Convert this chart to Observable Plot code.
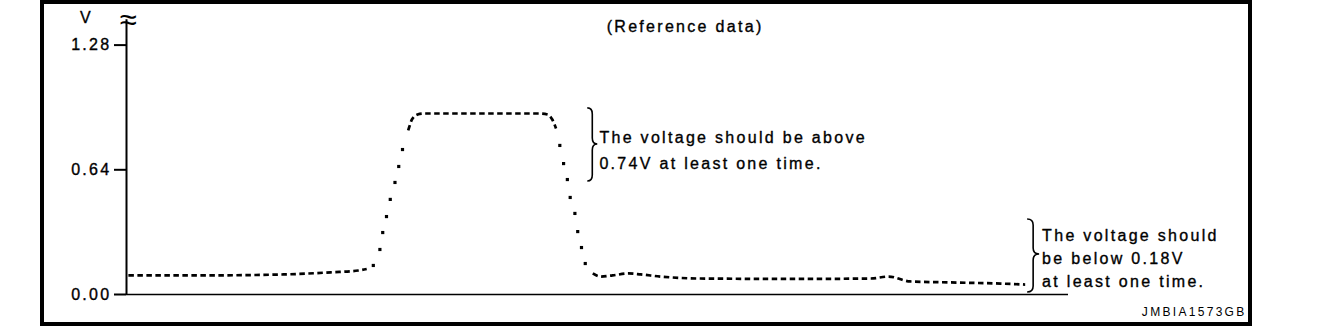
<!DOCTYPE html>
<html><head><meta charset="utf-8">
<script src="https://cdn.jsdelivr.net/npm/d3@7"></script>
<script src="https://cdn.jsdelivr.net/npm/@observablehq/plot@0.6"></script>
<style>
body{margin:0;background:#fff;}
#wrap{position:relative;width:1328px;height:328px;overflow:hidden;}
#chart svg{display:block;}
#chart svg text{letter-spacing:2.3px;}
#chart svg g[aria-label="y-axis tick label"]{stroke:#000;stroke-width:0.35px;letter-spacing:1.8px;}
#frame{position:absolute;left:40px;top:0;width:1212px;height:326px;box-sizing:border-box;border:4px solid #000;pointer-events:none;}
</style></head><body>
<div id="wrap"><div id="chart"></div><div id="frame"></div></div>
<script>
// ---- data (time in arbitrary units, voltage in V) ----
const yTicks = [0, 0.64, 1.28];
const yLabel = "V";
const title = "(Reference data)";
const note1 = ["The voltage should be above", "0.74V at least one time."];
const note2 = ["The voltage should", "be below 0.18V", "at least one time."];
const code = "JMBIA1573GB";

const baseT = [0.02, 0.79, 1.67, 2.17, 2.46, 2.55];
const baseV = [0.098, 0.098, 0.103, 0.114, 0.123, 0.131];
const riseT = [2.62, 2.69, 2.72, 2.76, 2.80, 2.85, 2.89, 2.93];
const riseV = [0.149, 0.231, 0.318, 0.400, 0.488, 0.575, 0.657, 0.744];
const topT = [2.99, 3.00, 3.03, 3.09, 3.15, 4.39, 4.47, 4.52, 4.56];
const topV = [0.842, 0.857, 0.898, 0.924, 0.929, 0.929, 0.924, 0.898, 0.852];
const fallT = [4.60, 4.64, 4.68, 4.71, 4.76, 4.79, 4.83, 4.87];
const fallV = [0.765, 0.672, 0.590, 0.498, 0.416, 0.323, 0.241, 0.159];
const tailT = [4.95, 5.03, 5.16, 5.33, 5.46, 5.67, 6.09, 7.15, 7.90, 8.09, 8.32, 8.75, 9.28, 9.54];
const tailV = [0.108, 0.092, 0.098, 0.108, 0.103, 0.092, 0.082, 0.080, 0.082, 0.092, 0.067, 0.062, 0.056, 0.051];

// brace annotations: spine time, top / bottom / tip voltage
const braceT = [4.95, 9.63];
const braceTop = [0.955, 0.385];
const braceBottom = [0.580, 0.010];
const braceMid = [0.770, 0.205];

// ---- build tables ----
const seg = (name, T, V) => T.map((t, i) => ({seg: name, t, v: V[i]}));
const lines = [...seg("base", baseT, baseV), ...seg("top", topT, topV), ...seg("tail", tailT, tailV)];
const dots = [...seg("rise", riseT, riseV), ...seg("fall", fallT, fallV)];

const font = "'Liberation Sans', Arial, Helvetica, sans-serif";
const txt = {fill: "#000", stroke: "#000", strokeWidth: 0.35};

const chart = Plot.plot({
  width: 1328,
  height: 328,
  marginLeft: 126,
  marginRight: 260,
  marginTop: 44.6,
  marginBottom: 34,
  x: {domain: [0, 10], axis: null},
  y: {domain: [0, 1.28], axis: null},
  style: {fontFamily: font, background: "transparent", color: "#000", overflow: "visible"},
  marks: [
    Plot.ruleY([0], {x1: 0, x2: 10, stroke: "#000", strokeWidth: 1.4}),
    Plot.ruleX([0], {y1: 0, y2: 1.41, stroke: "#000", strokeWidth: 2}),
    Plot.axisY({ticks: yTicks, tickFormat: d => d.toFixed(2), tickSize: 12, tickPadding: 3, label: null,
      fontSize: 16, stroke: "#000", strokeWidth: 2, strokeOpacity: 1, fill: "#000"}),
    Plot.text([yLabel], {x: 0, y: 1.41, dx: -40, dy: -2, fontSize: 16, ...txt}),
    Plot.text(["≈"], {x: 0, y: 1.41, dx: 3, dy: 0, fontSize: 31, fill: "#000"}),
    Plot.line(lines, {x: "t", y: "v", z: "seg", stroke: "#000", strokeWidth: 2.7,
      strokeDasharray: "5.5,3.5", strokeLinecap: "butt", curve: "monotone-x"}),
    Plot.dot(dots, {x: "t", y: "v", symbol: "square", r: 1.8, fill: "#000", stroke: null}),
    Plot.text([title], {x: 5.93, y: 1.376, fontSize: 16, ...txt}),
    Plot.text([note1.join("\n")], {x: 5.02, y: 0.755, textAnchor: "start", lineAnchor: "middle",
      lineHeight: 1.62, fontSize: 16, ...txt}),
    Plot.text([note2.join("\n")], {x: 9.72, y: 0.195, textAnchor: "start", lineAnchor: "middle",
      lineHeight: 1.44, fontSize: 16, ...txt}),
    Plot.text([code], {x: 11.89, y: -0.092, textAnchor: "end", fontSize: 12, fill: "#000",
      style: "letter-spacing:1.2px"})
  ]
});
document.getElementById("chart").appendChild(chart);

// braces drawn through the plot's scales
const sx = chart.scale("x"), sy = chart.scale("y");
const svg = d3.select(chart.tagName === "svg" ? chart : chart.querySelector("svg"));
const braceW = [5, 6];
braceT.forEach((t, i) => {
  const xs = sx.apply(t), y1 = sy.apply(braceTop[i]), y2 = sy.apply(braceBottom[i]), ym = sy.apply(braceMid[i]);
  const w = braceW[i], r = 6;
  const d = `M${xs - w},${y1} Q${xs},${y1} ${xs},${y1 + r} L${xs},${ym - r} Q${xs},${ym} ${xs + w},${ym}` +
            ` Q${xs},${ym} ${xs},${ym + r} L${xs},${y2 - r} Q${xs},${y2} ${xs - w},${y2}`;
  svg.append("path").attr("d", d).attr("fill", "none").attr("stroke", "#000").attr("stroke-width", 1.6);
});
</script>
</body></html>
